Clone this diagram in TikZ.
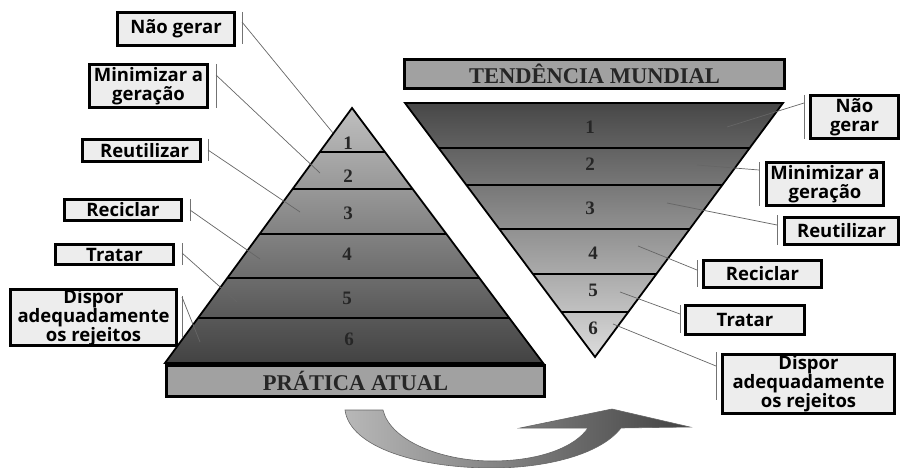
\documentclass[tikz,border=0pt]{standalone}
\usepackage{fontspec}
\setmainfont{Liberation Serif}
\setsansfont{Open Sans}
\usepackage{tikz}
\usetikzlibrary{positioning}
\tikzset{x=1pt, y=-1pt, % One unit is one pixel of the sketch, y grows downwards
labelbox/.style={ % Boxes with the names of the steps
draw,
line width=2.6pt,
fill=black!7,
align=center,
inner sep=0pt,
font={\sffamily\bfseries\fontsize{18.5}{19}\selectfont}},
titlebar/.style={ % Grey bars over and under the pyramids
draw,
line width=2.6pt,
fill=black!37,
inner sep=0pt,
text=black!85,
font={\bfseries\fontsize{22.5}{22.5}\selectfont}},
level/.style={ % Numbers of the levels
text=black!85,
font={\bfseries\fontsize{19}{19}\selectfont}},
tier/.style={line width=2pt}, % Lines between two levels
tick/.style={line width=0.6pt, black!55}, % Small bar beside a box
every edge/.style={ % Leader from a box to its level
draw,
line width=0.7pt,
black!60}}

\begin{document}
\begin{tikzpicture}
				\useasboundingbox (0,0) rectangle (902,468);

				% left pyramid
				\shade[top color=black!25, bottom color=black!74] (352,108) -- (543,363) -- (165,363) -- cycle;
				\begin{scope}
					\clip (352,108) -- (543,363) -- (165,363) -- cycle;
					\draw[tier] (150,152) -- (560,152) (150,189) -- (560,189) (150,234) -- (560,234);
					\draw[tier] (150,278) -- (560,278) (150,318) -- (560,318);
				\end{scope}
				\draw[line width=1.8pt] (352,108) -- (543,363) -- (165,363) -- cycle;

				% right pyramid
				\shade[top color=black!72, bottom color=black!14] (405,103) -- (783,103) -- (595,357) -- cycle;
				\begin{scope}
					\clip (405,103) -- (783,103) -- (595,357) -- cycle;
					\draw[tier] (400,148) -- (790,148) (400,185) -- (790,185) (400,229) -- (790,229);
					\draw[tier] (400,274) -- (790,274) (400,312) -- (790,312);
				\end{scope}
				\draw[line width=1.8pt] (405,103) -- (783,103) -- (595,357) -- cycle;

				\node[level] (l1) at (348,143) {1};
				\node[level] (l2) at (348,176) {2};
				\node[level] (l3) at (348,213) {3};
				\node[level] (l4) at (347,254) {4};
				\node[level] (l5) at (347,298) {5};
				\node[level] (l6) at (349,339) {6};
				\node[level] (r1) at (590,127) {1};
				\node[level] (r2) at (590,164) {2};
				\node[level] (r3) at (590,208) {3};
				\node[level] (r4) at (593,253) {4};
				\node[level] (r5) at (593,290) {5};
				\node[level] (r6) at (593,328) {6};

				\node[titlebar, minimum width=378pt, minimum height=31pt] (pa) at (355.5,381) {PRÁTICA ATUAL};
				\node[titlebar, minimum width=380pt, minimum height=29pt] (tm) at (594.5,74) {TENDÊNCIA MUNDIAL};

				% boxes on the left
				\node[labelbox, minimum width=117pt, minimum height=33pt] (L1) at (176,29) {Não gerar};
				\node[labelbox, minimum width=118pt, minimum height=43pt] (L2) at (148.5,86) {Minimizar a\\geração};
				\node[labelbox, minimum width=118pt, minimum height=22pt] (L3) at (141.5,150.5) {\hspace*{6pt}Reutilizar};
				\node[labelbox, minimum width=117pt, minimum height=21pt] (L4) at (123,210) {Reciclar};
				\node[labelbox, minimum width=118pt, minimum height=20pt] (L5) at (114.5,254.5) {Tratar};
				\node[labelbox, minimum width=166pt, minimum height=56pt] (L6) at (93.5,317.5) {Dispor\\adequadamente\\os rejeitos};

				% boxes on the right
				\node[labelbox, minimum width=88pt, minimum height=43pt] (R1) at (854.5,117) {Não\\gerar};
				\node[labelbox, minimum width=117pt, minimum height=43pt] (R2) at (825,184) {Minimizar a\\geração};
				\node[labelbox, minimum width=114pt, minimum height=27pt] (R3) at (841.5,231) {Reutilizar};
				\node[labelbox, minimum width=118pt, minimum height=27pt] (R4) at (762.5,274) {Reciclar};
				\node[labelbox, minimum width=119pt, minimum height=29pt] (R5) at (745,320) {Tratar};
				\node[labelbox, minimum width=172pt, minimum height=59pt] (R6) at (808.5,384) {Dispor\\adequadamente\\os rejeitos};

				% leaders
				\coordinate (L1t) at (242,22);  \coordinate (L1p) at (333,133);
				\coordinate (L2t) at (216,75);  \coordinate (L2p) at (320,173);
				\coordinate (L3t) at (208,150); \coordinate (L3p) at (300,212);
				\coordinate (L4t) at (190,210); \coordinate (L4p) at (260,259);
				\coordinate (L5t) at (182,253); \coordinate (L5p) at (237,302);
				\coordinate (L6t) at (182,297); \coordinate (L6p) at (200,342);
				\coordinate (R1t) at (804,103); \coordinate (R1p) at (727,127);
				\coordinate (R2t) at (759,170); \coordinate (R2p) at (697,165);
				\coordinate (R3t) at (777,225); \coordinate (R3p) at (667,203);
				\coordinate (R4t) at (697,270); \coordinate (R4p) at (638,246);
				\coordinate (R5t) at (680,314); \coordinate (R5p) at (620,292);
				\coordinate (R6t) at (716,366); \coordinate (R6p) at (613,324);

				\draw[tick] (242,12) -- (242,44) (216,64) -- (216,108) (208,139) -- (208,161);
				\draw[tick] (190,199) -- (190,221) (182,243) -- (182,265) (182,296) -- (182,338);
				\draw[tick] (804,95) -- (804,139) (759,162) -- (759,206) (777,215) -- (777,245);
				\draw[tick] (697,260) -- (697,287) (680,305) -- (680,333) (716,352) -- (716,400);

				\draw (L1t) edge (L1p) (L2t) edge (L2p) (L3t) edge (L3p);
				\draw (L4t) edge (L4p) (L5t) edge (L5p) (L6t) edge (L6p);
				\draw (R1t) edge (R1p) (R2t) edge (R2p) (R3t) edge (R3p);
				\draw (R4t) edge (R4p) (R5t) edge (R5p) (R6t) edge (R6p);

				% turning arrow
				\shade[left color=black!28, right color=black!74, draw=black!60, line width=0.6pt]
					(345,410) -- (383,410) .. controls (390,440) and (440,461) .. (492,461)
					.. controls (540,461) and (575,447) .. (588,428) -- (520,428) -- (612,409)
					-- (690,427) -- (621,428) .. controls (600,455) and (545,468) .. (492,468)
					.. controls (420,468) and (350,448) .. (345,410) -- cycle;
			\end{tikzpicture}
\end{document}
